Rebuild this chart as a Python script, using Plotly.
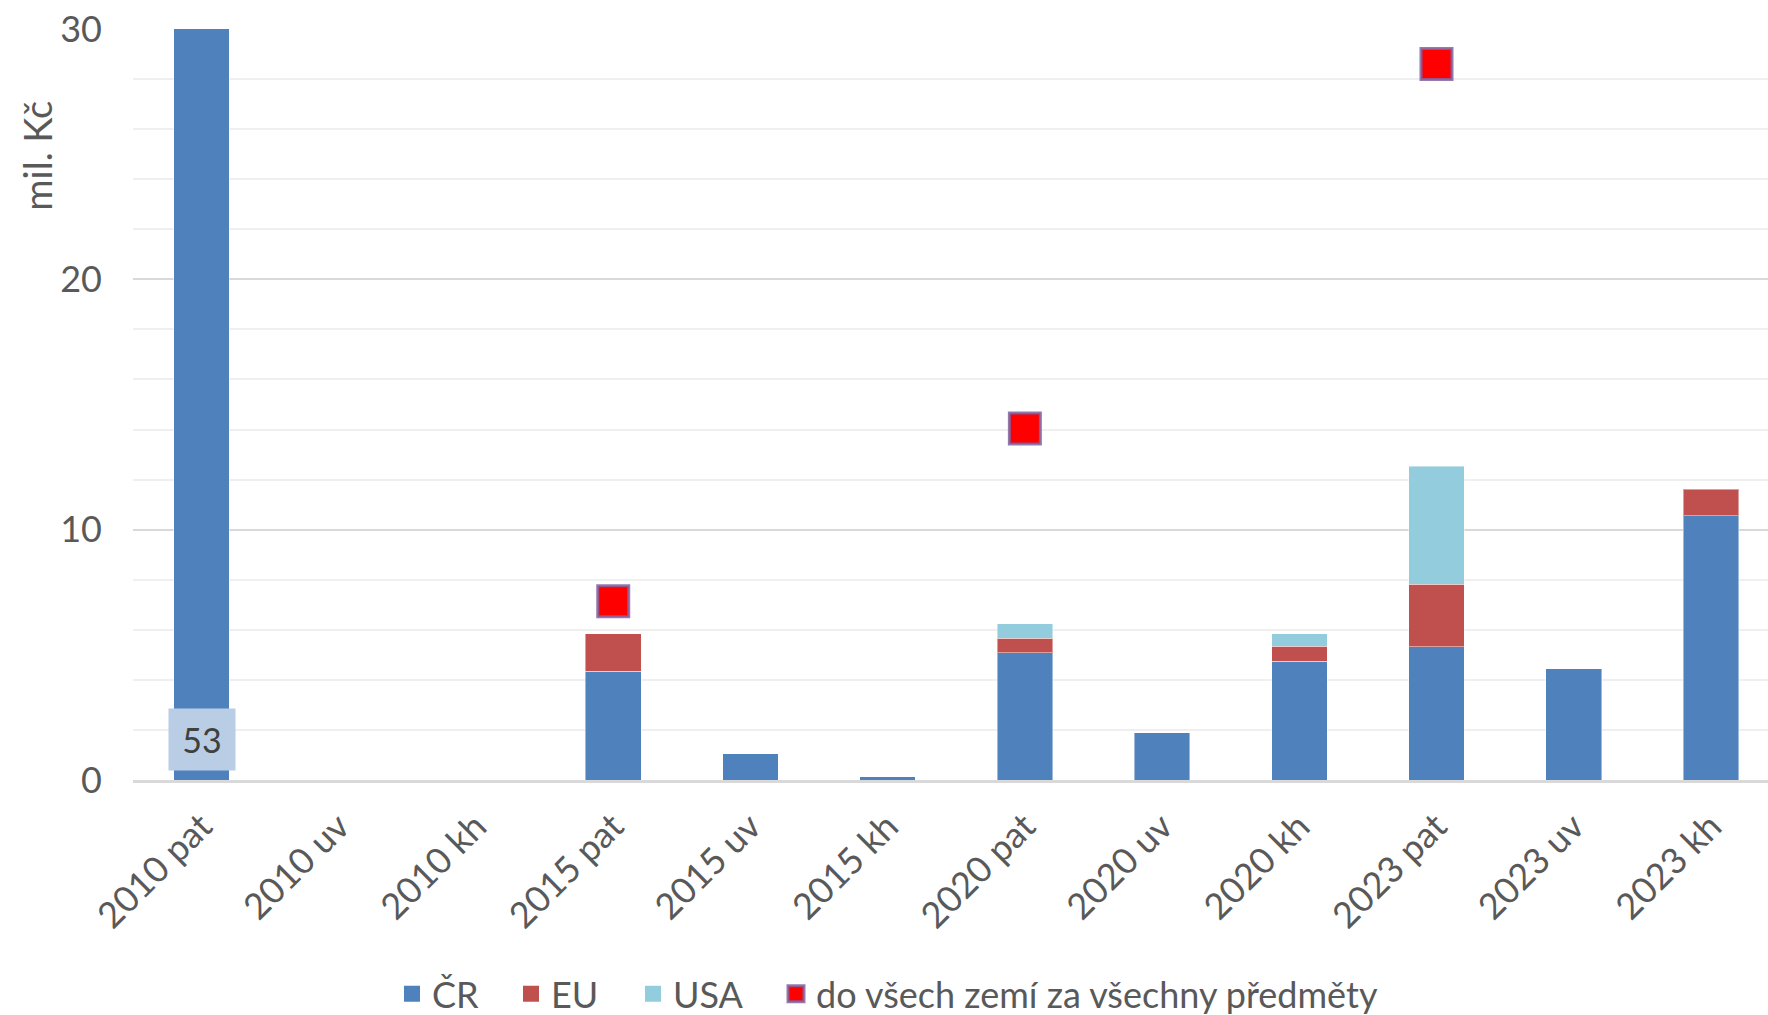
import plotly.graph_objects as go

# Categories: year + type of protection
categories = ["2010 pat", "2010 uv", "2010 kh", "2015 pat", "2015 uv", "2015 kh",
              "2020 pat", "2020 uv", "2020 kh", "2023 pat", "2023 uv", "2023 kh"]

# Values in mil. Kč (None = no payment)
cr = [53, None, None, 4.34, 1.05, 0.13, 5.08, 1.88, 4.74, 5.33, 4.44, 10.55]
eu = [None, None, None, 1.50, None, None, 0.58, None, 0.60, 2.49, None, 1.07]
usa = [None, None, None, None, None, None, 0.58, None, 0.50, 4.71, None, None]
total_all = [None, None, None, 7.14, None, None, 14.04, None, None, 28.6, None, None]

series_names = ["ČR", "EU", "USA"]
series_colors = ["#4F81BD", "#C0504D", "#93CDDD"]
total_name = "do všech zemí za všechny předměty"

FONT = "Lato"
TXT = "#595959"
FS = 36

W, H = 1768, 1015
L, R, T, B = 133, 0, 29.3, 234.5
pw, ph = W - L - R, H - T - B

# one legend per entry, so the spacing between entries can be set freely
legend_ids = ["legend", "legend2", "legend3", "legend4"]
legend_left_px = [392, 511, 633, 776]

fig = go.Figure()
bar_line = dict(color="rgba(255,255,255,0.45)", width=1)
for i, (name, vals, col) in enumerate(zip(series_names, [cr, eu, usa], series_colors)):
    fig.add_trace(go.Bar(x=categories, y=vals, name=name, legendgroup=name, showlegend=False,
                         marker=dict(color=col, line=bar_line)))
    # legend key with a larger square swatch
    fig.add_trace(go.Scatter(x=[None], y=[None], mode="markers", name=name, legendgroup=name,
                             legend=legend_ids[i],
                             marker=dict(symbol="square", size=16, color=col)))

fig.add_trace(go.Scatter(
    x=categories, y=total_all, mode="markers", name=total_name, legend=legend_ids[3],
    marker=dict(symbol="square", size=31, color="#FF0000",
                line=dict(color="rgba(128,100,162,0.85)", width=3)),
))

# Value label for the clipped first bar
fig.add_annotation(
    x=categories[0], y=0, xref="x", yref="y", text=str(cr[0]),
    showarrow=False, yanchor="bottom", yshift=9,
    width=64, height=59, bgcolor="#B9CDE5",
    font=dict(family=FONT, size=34, color="#404040"),
)

# Axis title placed near the top of the value axis
fig.add_annotation(
    x=(37 - L) / pw, y=(H - B - 156) / ph, xref="paper", yref="paper",
    text="mil. Kč", textangle=-90, showarrow=False,
    xanchor="center", yanchor="middle",
    font=dict(family=FONT, size=38, color=TXT),
)

legend_style = dict(orientation="h", xanchor="left", y=-0.3246, yanchor="bottom",
                    font=dict(family=FONT, size=FS, color=TXT), itemwidth=30,
                    bgcolor="rgba(0,0,0,0)")
legends = {lid: dict(x=(px - L) / pw, **legend_style)
           for lid, px in zip(legend_ids, legend_left_px)}

fig.update_layout(
    width=W, height=H,
    margin=dict(l=L, r=R, t=T, b=B, pad=0, autoexpand=False),
    barmode="stack", bargap=0.595,
    plot_bgcolor="white", paper_bgcolor="white",
    font=dict(family=FONT, size=FS, color=TXT),
    showlegend=True,
    **legends,
)
fig.update_xaxes(
    range=[-0.5, 11.416], tickangle=-45, showgrid=False, zeroline=False,
    showline=True, linecolor="#D9D9D9", linewidth=3, automargin=False,
    tickfont=dict(family=FONT, size=FS, color=TXT), ticks="", ticklabelstandoff=8,
)
fig.update_yaxes(
    range=[0, 30], dtick=10, showgrid=True, gridcolor="#D9D9D9", gridwidth=2,
    minor=dict(dtick=2, showgrid=True, gridcolor="#EFEFEF", gridwidth=2),
    zeroline=False, showline=False, ticks="", automargin=False,
    tickfont=dict(family=FONT, size=FS, color=TXT), ticklabelstandoff=30,
)

fig.write_html("out.html")
